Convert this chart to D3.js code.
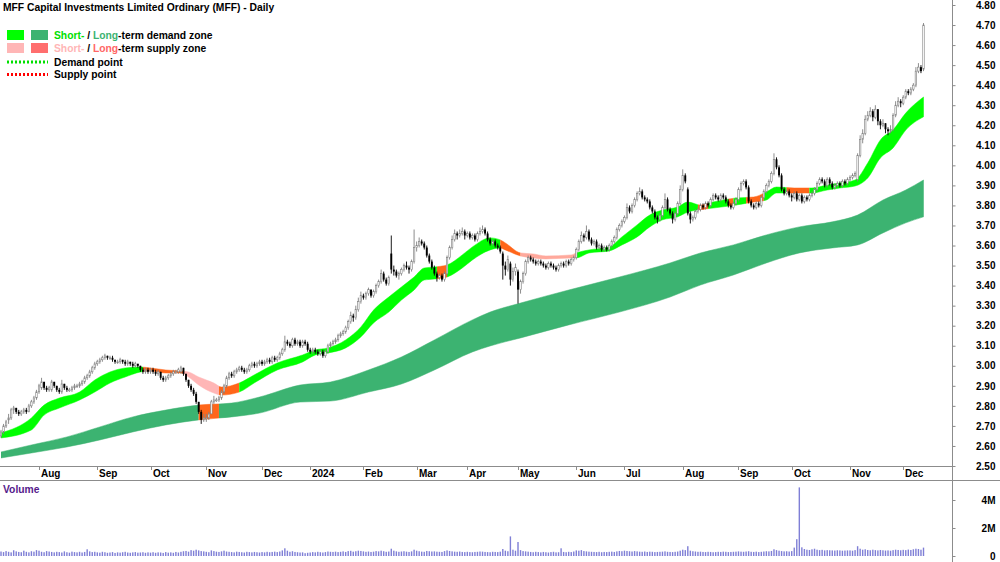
<!DOCTYPE html>
<html>
<head>
<meta charset="utf-8">
<script src="https://cdn.jsdelivr.net/npm/d3@7"></script>
<style>
  body { margin: 0; background: #fff; }
  text { font-family: "Liberation Sans", Arial, sans-serif; font-weight: bold; }
</style>
</head>
<body>
<div class="chart"></div>
<script>
// MFF daily chart - candles, demand zones, volume

var width = 1000;
var height = 562;
var plotRight = 952;     // y axis line
var priceBottom = 466;   // bottom of price panel
var volTop = 480;

// trading calendar (ASX)
var firstDay = new Date(2023, 6, 11);
var lastDay = new Date(2024, 11, 12);
var holidays = ["2023-12-25", "2023-12-26", "2024-01-01", "2024-01-26",
                "2024-03-29", "2024-04-01", "2024-04-25", "2024-06-10"];

// prices in cents, one inner array per month (Jul 2023 .. Dec 2024)
var open = [
  [265,267,270,273,274,278,279,277,276,277,278,277,280,282,284],
  [287,289,292,289,288,288,292,290,288,287,291,289,288,288,289,290,290,291,292,294,295,297,299],
  [301,302,303,304,305,304,304,303,302,302,303,302,301,302,301,300,301,300,298,297,298],
  [297,298,297,296,297,294,293,294,295,296,297,297,297,299,296,293,290,288,286,282,277,273],
  [274,274,276,282,283,283,284,287,290,294,296,295,297,298,299,298,297,298,300,301,300,301],
  [302,301,302,303,302,304,303,304,306,308,312,311,310,313,311,312,310,312,311],
  [308,307,308,307,306,307,305,307,310,311,312,313,315,316,317,319,322,325,324,328,332],
  [335,334,336,338,335,337,340,342,346,343,341,356,348,347,345,346,348,350,349,348,352],
  [359,360,362,361,359,355,352,349,346,344,345,343,346,354,359,363,366,365,366,367],
  [365,366,364,365,363,366,367,368,366,363,361,362,360,359,356,350,348,351,343,347],
  [347,338,342,346,352,354,353,352,351,352,351,350,349,351,350,349,348,350,351,350,352,351,353],
  [354,358,362,365,364,367,363,361,362,359,360,358,359,358,360,362,364,368,370],
  [372,374,379,377,380,383,386,387,384,383,382,379,377,374,373,375,379,383,378,376,373,376,381],
  [388,395,388,376,373,374,377,378,380,379,381,380,383,385,384,383,385,384,382,380,379,381],
  [383,388,391,392,389,382,380,379,381,380,384,387,390,392,396,403,399,395,388,386,387],
  [385,384,386,383,385,382,384,383,385,386,388,391,393,392,390,393,391,389,390,391,390,392,391],
  [393,394,395,393,405,413,416,423,425,427,424,428,422,420,421,418,417,418,425,430,432],
  [431,434,437,436,438,440,447,449,448]
];
var high = [
  [268,271,273,276,279,280,279,278,278,279,279,281,283,285,288],
  [291,294,292,290,290,293,292,290,289,293,291,290,289,290,291,291,292,293,295,296,298,300,302],
  [303,304,305,306,305,305,305,303,303,304,303,303,303,302,302,302,301,300,299,299,299],
  [299,299,298,298,297,295,295,296,297,298,298,299,300,299,296,293,291,289,287,282,278,276],
  [276,277,283,285,284,285,288,291,295,297,297,298,299,300,300,299,299,301,302,302,302,303],
  [303,303,304,304,305,305,305,307,309,315,313,312,314,314,313,313,313,313,312],
  [309,309,309,308,308,308,308,311,312,313,314,316,317,318,320,323,327,326,330,334,337],
  [336,337,339,338,338,341,343,348,347,344,345,365,350,348,347,349,351,352,350,353,368],
  [362,364,363,362,360,356,353,350,347,346,346,347,355,360,365,368,367,368,369,368],
  [367,367,366,366,367,369,370,369,367,364,363,363,361,360,357,352,355,352,349,351],
  [348,343,347,353,355,355,354,353,353,353,352,351,352,352,351,350,351,352,352,353,353,354,355],
  [359,363,367,366,370,368,364,363,363,361,361,360,360,361,363,365,369,371,373],
  [375,381,380,381,384,387,389,388,385,384,383,380,378,375,376,380,386,384,379,377,377,382,390],
  [398,396,389,377,375,378,379,381,381,382,382,384,386,386,385,386,386,385,383,381,382,384],
  [389,392,393,393,390,383,381,382,382,385,388,391,393,397,406,404,400,396,389,388,388],
  [386,387,387,386,386,385,385,386,387,389,392,394,394,393,394,394,392,391,392,392,393,393,394],
  [395,396,397,406,415,418,425,427,429,428,430,428,423,423,421,419,420,426,432,434,433],
  [435,438,438,439,441,449,451,450,471]
];
var low = [
  [264,266,269,271,273,276,276,275,275,276,276,277,279,281,283],
  [286,288,288,287,287,287,289,287,286,286,288,287,287,287,288,289,289,290,291,293,294,296,298],
  [300,301,302,303,303,303,302,301,301,301,301,300,300,300,299,299,299,297,296,296,296],
  [296,296,295,295,293,292,292,293,294,295,296,296,296,295,292,289,287,285,281,276,271,272],
  [272,273,276,281,282,282,283,286,289,293,294,294,296,297,297,296,296,297,299,299,299,300],
  [300,300,301,301,301,302,302,303,305,307,310,309,309,310,310,309,309,310,307],
  [306,306,306,305,305,304,304,306,309,310,311,312,314,315,316,318,321,322,323,327,331],
  [333,333,335,334,334,336,339,341,342,340,340,346,345,344,343,345,347,348,346,347,351],
  [357,359,360,358,354,351,348,345,342,343,342,342,345,353,358,362,363,364,365,363],
  [364,363,363,362,362,365,366,365,362,360,360,359,358,356,343,345,347,340,342,345],
  [331,336,341,345,351,352,351,350,350,350,349,348,348,349,348,347,347,349,349,349,350,350,352],
  [353,357,361,362,363,362,360,360,358,358,357,357,357,357,359,361,363,367,369],
  [371,373,376,376,379,382,385,383,382,381,378,376,373,371,372,374,378,377,375,371,372,375,380],
  [387,391,375,371,372,373,376,377,378,378,379,379,382,383,382,382,383,381,379,378,378,380],
  [382,387,390,388,381,379,378,378,379,379,383,386,389,391,395,398,394,387,385,385,384],
  [382,383,382,382,381,381,382,382,384,385,387,390,391,389,389,390,388,388,389,389,389,390,390],
  [392,393,394,392,404,411,415,422,424,422,423,420,418,419,416,415,416,417,424,429,429],
  [430,433,435,435,437,439,446,446,447]
];
var close = [
  [267,270,272,274,278,279,277,276,277,278,277,280,282,284,287],
  [290,292,289,288,289,292,290,288,287,291,289,288,288,289,290,290,291,292,294,295,297,299,301],
  [302,303,304,305,304,304,303,302,302,303,302,301,302,301,300,301,300,298,297,298,297],
  [298,297,296,297,294,293,294,295,296,297,297,298,299,296,293,290,288,286,282,277,273,274],
  [274,276,282,283,283,284,287,290,294,296,295,297,298,299,298,297,298,300,301,300,301,302],
  [301,302,303,302,304,303,304,306,308,312,311,310,313,311,312,310,312,311,308],
  [307,308,307,306,307,305,307,310,311,312,313,315,316,317,319,322,325,324,328,332,335],
  [334,336,338,335,337,340,342,346,343,341,344,348,347,345,346,348,350,349,348,352,359],
  [360,362,361,359,355,352,349,346,344,345,343,346,354,359,363,366,365,366,367,365],
  [366,364,365,363,366,367,368,366,363,361,362,360,359,357,350,348,353,343,347,349],
  [338,342,346,352,354,353,352,351,352,351,350,349,351,350,349,348,350,351,350,352,351,353,354],
  [358,362,365,364,367,363,361,362,359,360,358,359,358,360,362,364,368,370,372],
  [374,379,377,380,383,386,387,384,383,382,379,377,374,373,375,379,383,378,376,373,376,381,388],
  [395,392,376,373,374,377,378,380,379,381,380,383,385,384,383,385,384,382,380,379,381,383],
  [388,391,392,389,382,380,379,381,380,384,387,390,392,396,403,399,395,388,386,387,385],
  [384,386,383,385,382,384,383,385,386,388,391,393,392,390,393,391,389,390,391,390,392,391,393],
  [394,395,396,405,413,416,423,425,427,424,428,422,420,421,418,417,418,425,430,432,431],
  [434,437,436,438,440,447,449,447,470]
];
// volume in thousands of shares
var volume = [
  [320,280,350,300,260,410,330,290,270,380,300,260,340,310,420],
  [380,300,270,350,320,290,260,300,280,250,330,270,240,310,280,260,300,250,290,480,330,280,300],
  [260,240,300,270,230,250,280,220,260,240,270,300,250,230,260,280,240,250,270,230,260],
  [240,270,230,260,250,220,280,240,260,230,290,250,300,340,360,310,420,380,450,400,350,330],
  [300,270,400,350,310,290,330,380,320,300,280,260,310,290,270,250,300,280,260,290,270,250],
  [280,260,300,270,290,310,280,320,400,550,380,300,340,290,270,250,260,200,230],
  [250,280,260,300,270,250,280,320,300,290,310,280,300,330,290,350,370,310,340,380,360],
  [330,300,320,290,310,350,330,380,340,300,320,520,380,330,300,320,340,310,290,330,450],
  [380,340,310,300,360,340,320,330,310,300,290,350,400,360,330,310,300,320,290,280],
  [300,280,270,290,300,320,310,290,280,270,300,290,280,310,500,380,340,1400,450,380],
  [1000,420,350,330,310,290,270,300,280,260,290,270,250,280,300,260,270,550,290,270,300,280,320],
  [400,380,420,350,330,310,300,290,280,300,270,290,280,300,310,290,330,360,340],
  [380,360,340,320,350,330,310,300,320,290,310,300,280,290,300,310,330,300,290,280,300,320,380],
  [450,420,700,380,340,320,300,310,290,280,300,290,270,280,300,290,310,300,280,290,300,310],
  [330,310,300,320,340,300,290,310,280,300,320,340,330,360,480,420,380,350,330,340,320],
  [350,600,1200,4900,620,500,450,430,480,520,450,420,440,400,420,410,400,390,410,400,380,390,400],
  [400,380,420,700,520,450,480,430,410,450,420,400,430,410,390,400,380,420,450,430,410],
  [440,420,460,430,480,520,500,450,600]
];

// demand / supply zone edges ($), sampled at candle index
var shortIdx = [0,12,17,23,31,37,43,49,55,59,65,71,74,78,84,87,94,100,109,119,124,129,136,142,147,153,158,163,167,171,176,182,186,193,197,199,205,210,215,225,227,232,240,245,251,256,261,267,271,276,281,290,297,302,306,313,320,326,331,337,342,347,352,357,364];
var shortHi = [2.665,2.740,2.804,2.839,2.869,2.929,2.969,2.989,2.994,2.989,2.979,2.974,2.969,2.944,2.914,2.894,2.914,2.955,3.014,3.054,3.079,3.089,3.129,3.194,3.278,3.343,3.393,3.443,3.488,3.493,3.503,3.553,3.593,3.638,3.628,3.613,3.563,3.558,3.548,3.553,3.563,3.578,3.593,3.643,3.703,3.752,3.777,3.792,3.817,3.802,3.817,3.837,3.842,3.867,3.892,3.887,3.887,3.902,3.912,3.927,4.012,4.127,4.177,4.261,4.341];
var shortLo = [2.640,2.680,2.754,2.789,2.829,2.869,2.914,2.944,2.969,2.974,2.964,2.964,2.944,2.904,2.864,2.854,2.869,2.915,2.979,3.019,3.054,3.064,3.089,3.144,3.214,3.268,3.328,3.378,3.428,3.433,3.443,3.488,3.528,3.578,3.588,3.578,3.548,3.538,3.533,3.538,3.538,3.563,3.573,3.603,3.643,3.693,3.728,3.743,3.767,3.779,3.787,3.802,3.817,3.827,3.862,3.862,3.862,3.877,3.887,3.897,3.937,4.037,4.087,4.176,4.242];
var longIdx = [0,12,26,39,52,65,78,91,102,118,130,145,158,171,186,193,205,224,244,264,276,289,302,315,328,338,348,357,364];
var longHi = [2.570,2.605,2.645,2.695,2.745,2.779,2.804,2.814,2.844,2.904,2.919,2.979,3.044,3.129,3.229,3.268,3.313,3.378,3.443,3.513,3.563,3.603,3.653,3.693,3.718,3.752,3.827,3.877,3.927];
var longLo = [2.540,2.565,2.595,2.630,2.670,2.705,2.730,2.745,2.764,2.819,2.824,2.869,2.909,2.979,3.069,3.099,3.139,3.204,3.268,3.343,3.403,3.453,3.513,3.563,3.588,3.603,3.663,3.713,3.743];

// zone state by candle range: [from, to, kind]
var shortZones = [[0,56,"sd"],[56,72,"mix"],[72,86,"ss"],[86,94,"mix"],[94,172,"sd"],[172,176,"mix"],
                  [176,197,"sd"],[197,205,"mix"],[205,227,"thin"],[227,275,"sd"],[275,279,"mix"],
                  [279,287,"sd"],[287,289,"mix"],[289,294,"sd"],[294,301,"mix"],[301,310,"sd"],
                  [310,319,"mix"],[319,365,"sd"]];
var longZones = [[0,78,"ld"],[78,86,"mix"],[86,365,"ld"]];

var zoneColor = {
  sd: "#00ff00",   // short-term demand
  ld: "#3cb371",   // long-term demand
  ss: "#ffb6b6",   // short-term supply
  ls: "#ff6e6e",   // long-term supply
  mix: "#ff661a",
  thin: "#ffa99c"
};

var priceTicks = [2.5,2.6,2.7,2.8,2.9,3.0,3.1,3.2,3.3,3.4,3.5,3.6,3.7,3.8,3.9,4.0,4.1,4.2,4.3,4.4,4.5,4.6,4.7,4.8];
var volTicks = [0, 2000, 4000];
var volTickLabels = ["0", "2M", "4M"];
var monthLabels = ["Aug","Sep","Oct","Nov","Dec","2024","Feb","Mar","Apr","May","Jun","Jul","Aug","Sep","Oct","Nov","Dec"];

// --- calendar
var fmtDay = d3.timeFormat("%Y-%m-%d");
var fmtMonth = d3.timeFormat("%Y-%m");
var dates = d3.timeDays(firstDay, d3.timeDay.offset(lastDay, 1))
              .filter(d => d.getDay() !== 0 && d.getDay() !== 6 && holidays.indexOf(fmtDay(d)) < 0);
var monthCounts = d3.groups(dates, d => fmtMonth(d)).map(g => g[1].length);

// sanity check that every month has the right number of candles
[["open", open], ["high", high], ["low", low], ["close", close], ["volume", volume]].forEach(p => {
  p[1].forEach((m, k) => {
    if (m.length !== monthCounts[k]) throw new Error(p[0] + " month " + k + ": " + m.length + " vs " + monthCounts[k]);
  });
});

var data = dates.map((d, i) => ({ i: i, date: d }));
open.flat().forEach((v, i) => data[i].o = v / 100);
high.flat().forEach((v, i) => data[i].h = v / 100);
low.flat().forEach((v, i) => data[i].l = v / 100);
close.flat().forEach((v, i) => data[i].c = v / 100);
volume.flat().forEach((v, i) => data[i].v = v);

var monthStarts = data.filter((d, i) => i > 0 && fmtMonth(d.date) !== fmtMonth(data[i - 1].date)).map(d => d.i);

// --- scales
var x = d3.scaleLinear().domain([0, data.length - 1]).range([1, 923.5]);
var y = d3.scaleLinear().domain([2.5, 4.8]).range([priceBottom, 5]);
var yVol = d3.scaleLinear().domain([0, 4000]).range([556, 500]);

const svg = d3.select(".chart")
              .append("svg")
              .attr("width", width)
              .attr("height", height);

svg.append("rect").attr("width", width).attr("height", height).attr("fill", "#fff");

var defs = svg.append("defs");
defs.append("clipPath").attr("id", "price-clip")
    .append("rect").attr("x", 0).attr("y", 0).attr("width", plotRight).attr("height", priceBottom);

var price = svg.append("g").attr("clip-path", "url(#price-clip)");

// --- zones
function drawZones(idx, hi, lo, zones, name) {
  var pts = idx.map((d, k) => ({ i: d, hi: hi[k], lo: lo[k] }));
  var area = d3.area()
               .x(d => x(d.i))
               .y0(d => y(d.lo))
               .y1(d => y(d.hi))
               .curve(d3.curveMonotoneX);
  zones.forEach((z, k) => {
    var id = name + "-clip-" + k;
    var x0 = x(z[0]);
    var x1 = z[1] >= data.length ? plotRight : x(z[1]);
    defs.append("clipPath").attr("id", id)
        .append("rect").attr("x", x0).attr("y", 0).attr("width", x1 - x0).attr("height", priceBottom);
    price.append("path")
         .datum(pts)
         .attr("d", area)
         .attr("fill", zoneColor[z[2]])
         .attr("stroke", zoneColor[z[2]])
         .attr("stroke-width", 0.5)
         .attr("clip-path", "url(#" + id + ")");
  });
}
drawZones(longIdx, longHi, longLo, longZones, "long");
drawZones(shortIdx, shortHi, shortLo, shortZones, "short");

// --- candles
var candles = price.selectAll("g.candle")
                   .data(data)
                   .enter()
                   .append("g")
                   .attr("class", "candle");
candles.append("line")
       .attr("x1", d => x(d.i))
       .attr("x2", d => x(d.i))
       .attr("y1", d => y(d.h))
       .attr("y2", d => y(d.l))
       .attr("stroke", d => d.c >= d.o ? "#808080" : "#000")
       .attr("stroke-width", 0.9);
candles.append("rect")
       .attr("x", d => x(d.i) - (d.c >= d.o ? 0.75 : 0.95))
       .attr("width", d => d.c >= d.o ? 1.5 : 1.9)
       .attr("y", d => y(Math.max(d.o, d.c)))
       .attr("height", d => Math.max(1, Math.abs(y(d.o) - y(d.c))))
       .attr("fill", d => d.c >= d.o ? "#fff" : "#000")
       .attr("stroke", d => d.c >= d.o ? "#808080" : "none")
       .attr("stroke-width", 0.6);

// --- volume
svg.append("g")
   .selectAll("rect")
   .data(data)
   .enter()
   .append("rect")
   .attr("x", d => x(d.i) - 0.7)
   .attr("width", 1.4)
   .attr("y", d => yVol(d.v))
   .attr("height", d => yVol(0) - yVol(d.v))
   .attr("fill", "#7f7fd6");

// --- frame lines
svg.append("line").attr("x1", 0).attr("x2", plotRight).attr("y1", priceBottom + 0.5).attr("y2", priceBottom + 0.5)
   .attr("stroke", "#8c8c8c");
svg.append("line").attr("x1", 0).attr("x2", width).attr("y1", volTop + 0.5).attr("y2", volTop + 0.5)
   .attr("stroke", "#8c8c8c");
svg.append("line").attr("x1", plotRight + 0.5).attr("x2", plotRight + 0.5).attr("y1", 0).attr("y2", height)
   .attr("stroke", "#8c8c8c");

// --- price axis
const yAxis = d3.axisRight(y)
                .tickValues(priceTicks)
                .tickSize(3)
                .tickPadding(40)
                .tickFormat(d3.format(".2f"));
var ya = svg.append("g")
            .attr("transform", "translate(" + (plotRight + 0.5) + ",0)")
            .call(yAxis);
ya.select(".domain").remove();
ya.selectAll(".tick line").attr("stroke", "#8c8c8c");
ya.selectAll("text").attr("text-anchor", "end").attr("font-size", "10px").attr("fill", "#000")
  .attr("font-family", null);

// --- volume axis
const vAxis = d3.axisRight(yVol)
                .tickValues(volTicks)
                .tickSize(3)
                .tickPadding(40)
                .tickFormat((d, k) => volTickLabels[k]);
var va = svg.append("g")
            .attr("transform", "translate(" + (plotRight + 0.5) + ",0)")
            .call(vAxis);
va.select(".domain").remove();
va.selectAll(".tick line").attr("stroke", "#8c8c8c");
va.selectAll("text").attr("text-anchor", "end").attr("font-size", "10px").attr("fill", "#000")
  .attr("font-family", null);

// --- month axis
var mt = svg.append("g").selectAll("g")
            .data(monthStarts)
            .enter()
            .append("g")
            .attr("transform", d => "translate(" + Math.round(x(d)) + ",0)");
mt.append("line").attr("x1", 0.5).attr("x2", 0.5).attr("y1", priceBottom + 1).attr("y2", priceBottom + 4)
  .attr("stroke", "#8c8c8c");
mt.append("text")
  .attr("x", 2)
  .attr("y", 477)
  .attr("font-size", "10px")
  .text((d, k) => monthLabels[k]);

// --- title and legend
svg.append("text").attr("x", 3).attr("y", 11).attr("font-size", "10.3px").attr("fill", "#000")
   .text("MFF Capital Investments Limited Ordinary (MFF) - Daily");

var legend = svg.append("g").attr("id", "legend");
legend.append("rect").attr("x", 7).attr("y", 30).attr("width", 17).attr("height", 10).attr("fill", zoneColor.sd);
legend.append("rect").attr("x", 31).attr("y", 30).attr("width", 17).attr("height", 10).attr("fill", zoneColor.ld);
legend.append("rect").attr("x", 7).attr("y", 43).attr("width", 17).attr("height", 10).attr("fill", zoneColor.ss);
legend.append("rect").attr("x", 31).attr("y", 43).attr("width", 17).attr("height", 10).attr("fill", zoneColor.ls);
legend.append("line").attr("x1", 7).attr("x2", 48).attr("y1", 62).attr("y2", 62)
      .attr("stroke", "#00e000").attr("stroke-width", 3).attr("stroke-dasharray", "2,2");
legend.append("line").attr("x1", 7).attr("x2", 48).attr("y1", 74.5).attr("y2", 74.5)
      .attr("stroke", "#ff0000").attr("stroke-width", 3).attr("stroke-dasharray", "2,2");

var t1 = legend.append("text").attr("x", 54).attr("y", 39).attr("font-size", "10.3px");
t1.append("tspan").attr("fill", "#00e000").text("Short-");
t1.append("tspan").attr("fill", "#000").text(" / ");
t1.append("tspan").attr("fill", zoneColor.ld).text("Long");
t1.append("tspan").attr("fill", "#000").text("-term demand zone");
var t2 = legend.append("text").attr("x", 54).attr("y", 52).attr("font-size", "10.3px");
t2.append("tspan").attr("fill", "#ffb6b6").text("Short-");
t2.append("tspan").attr("fill", "#000").text(" / ");
t2.append("tspan").attr("fill", "#ff6666").text("Long");
t2.append("tspan").attr("fill", "#000").text("-term supply zone");
legend.append("text").attr("x", 54).attr("y", 65.5).attr("font-size", "10.3px").text("Demand point");
legend.append("text").attr("x", 54).attr("y", 78).attr("font-size", "10.3px").text("Supply point");

svg.append("text").attr("x", 3).attr("y", 493).attr("font-size", "10.3px").attr("fill", "#551a8b").text("Volume");
</script>
</body>
</html>
